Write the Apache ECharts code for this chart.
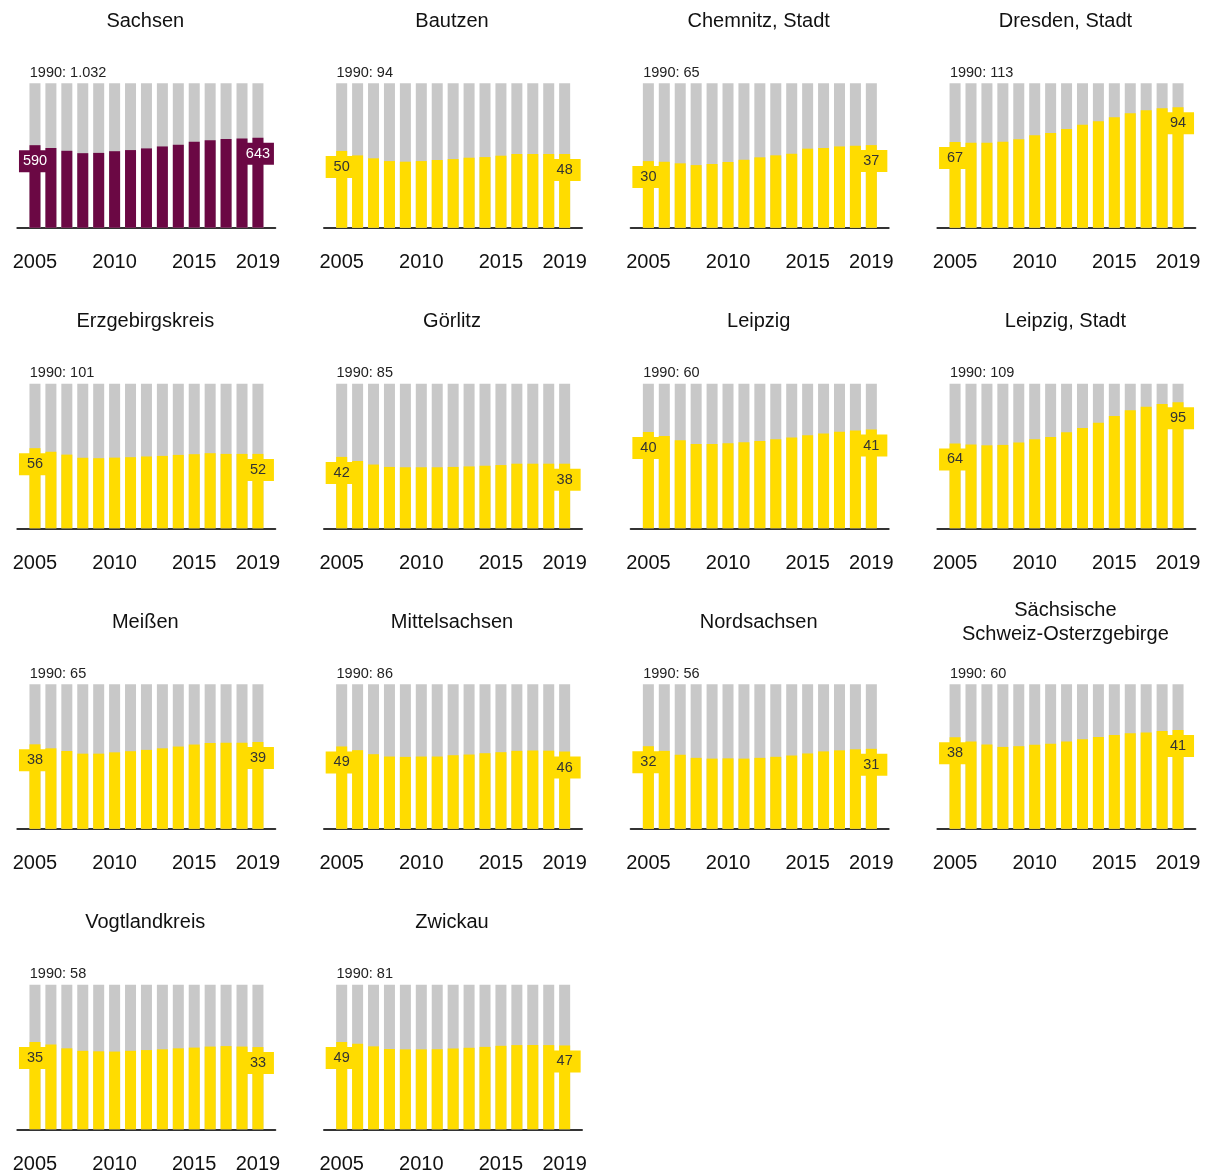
<!DOCTYPE html>
<html>
<head>
<meta charset="utf-8">
<script src="https://cdn.jsdelivr.net/npm/echarts@6/dist/echarts.min.js"></script>
<style>
html,body{margin:0;padding:0;background:#fff;}
#chart{width:1211px;height:1176px;}
</style>
</head>
<body>
<div id="chart"></div>
<script>
// ---- data ----
const years = [2005,2006,2007,2008,2009,2010,2011,2012,2013,2014,2015,2016,2017,2018,2019];
const tickYears = [2005,2010,2015,2019];
const regions = ["Sachsen","Bautzen","Chemnitz, Stadt","Dresden, Stadt","Erzgebirgskreis","Görlitz","Leipzig","Leipzig, Stadt","Meißen","Mittelsachsen","Nordsachsen","Sächsische\nSchweiz-Osterzgebirge","Vogtlandkreis","Zwickau"];
const v1990 = [1032,94,65,113,101,85,60,109,65,86,56,60,58,81];

const sachsen      = [590,570,550,533,535,547,555,567,581,593,614,626,634,638,643];
const bautzen      = [50,47.1,45.2,43.4,43,43.4,44.1,44.7,45.6,46,46.9,48,48,48,48];
const chemnitz     = [30,29.7,29,28.2,28.7,29.6,30.6,31.7,32.6,33.3,35.6,35.9,36.6,36.9,37.2];
const dresden      = [67,66.5,66.5,67.3,69.2,72.3,74.1,77.2,80.6,83.3,86.4,89.5,91.9,93.4,94.3];
const erzgebirge   = [56,53.5,51.5,49.3,49,49.4,49.7,50.2,50.6,51.3,51.8,52.5,52,52,52];
const goerlitz     = [42,39.6,37.5,36.1,35.9,35.9,35.9,36.1,36.4,36.8,37.2,38,38,38,38];
const leipzig      = [40,38.3,36.6,35,35,35.3,35.7,36.3,37,37.7,38.6,39.4,40.1,40.6,41];
const leipzigStadt = [64,63.2,62.6,62.9,64.7,67.2,68.9,72.4,75.7,79.7,84.7,89,91.7,93.7,95];
const meissen      = [38,36.2,35,33.8,33.8,34.4,34.9,35.5,36.2,37,37.9,38.6,38.7,38.7,39];
const mittelsachsen= [49,46.8,44.4,43,42.8,43,43,43.8,44.2,45,45.6,46.4,46.6,46.5,46];
const nordsachsen  = [32,30.2,28.7,27.5,27.2,27.3,27.2,27.5,27.9,28.4,29.2,30,30.4,30.8,31];
const saechsSchweiz= [38,36.3,35,34,34.3,34.9,35.3,36.3,37.2,38.1,39,39.7,40,40.6,41];
const vogtland     = [35,34,32.5,31.5,31.3,31.2,31.5,31.8,32.1,32.5,32.8,33.2,33.4,33.2,33];
const zwickau      = [49,48,46.5,45,44.8,44.8,44.9,45.3,45.7,46.2,46.8,47.2,47.3,47.2,47];
const series = [sachsen,bautzen,chemnitz,dresden,erzgebirge,goerlitz,leipzig,leipzigStadt,meissen,mittelsachsen,nordsachsen,saechsSchweiz,vogtland,zwickau];

// ---- layout ----
const colStep = 306.7, rowStep = 300.5;
const gridLeft0 = 17.3, gridWidth = 258, gridTop0 = 83.3, gridHeight = 144.5;
const fmtDE = n => String(n).replace(/\B(?=(\d{3})+(?!\d))/g, '.');

const opt = {
  backgroundColor: '#fff',
  animation: false,
  title: [], grid: [], xAxis: [], yAxis: [], series: []
};

regions.forEach((name, i) => {
  const c = i % 4, r = Math.floor(i / 4);
  const gl = gridLeft0 + colStep * c;
  const gt = gridTop0 + rowStep * r;
  const isMain = i === 0;
  const color = isMain ? '#6b0844' : '#ffdc00';
  const twoLine = name.indexOf('\n') >= 0;
  opt.title.push({
    text: name,
    left: gl + gridWidth / 2 - 1,
    top: gt - 74 - (twoLine ? 12 : 0),
    textAlign: 'center',
    padding: 0,
    textStyle: {fontFamily: 'Liberation Sans, Arial, sans-serif', fontSize: 20, fontWeight: 'normal', color: '#111', lineHeight: 24}
  });
  opt.title.push({
    text: '1990: ' + fmtDE(v1990[i]),
    left: gl + 12.5,
    top: gt - 18.6,
    padding: 0,
    textStyle: {fontFamily: 'Liberation Sans, Arial, sans-serif', fontSize: 14.5, fontWeight: 'normal', color: '#222', lineHeight: 16}
  });
  opt.grid.push({left: gl, top: gt, width: gridWidth, height: gridHeight, containLabel: false});
  opt.xAxis.push({
    type: 'value', gridIndex: i, min: 2003.89, max: 2020.09,
    axisLine: {show: true, onZero: false, lineStyle: {color: '#333', width: 2}},
    axisTick: {show: false},
    splitLine: {show: false},
    axisLabel: {customValues: tickYears, formatter: v => String(v), margin: 25, fontSize: 20, color: '#111', fontFamily: 'Liberation Sans, Arial, sans-serif'}
  });
  opt.yAxis.push({type: 'value', gridIndex: i, min: 0, max: v1990[i], show: false, splitLine: {show: false}});
  const vals = series[i];
  opt.series.push({
    type: 'bar', xAxisIndex: i, yAxisIndex: i, barWidth: 11, barGap: '-100%',
    silent: true, itemStyle: {color: '#c8c8c8'},
    data: years.map(y => [y, v1990[i]])
  });
  opt.series.push({
    type: 'bar', xAxisIndex: i, yAxisIndex: i, barWidth: 11, barGap: '-100%',
    silent: true, itemStyle: {color: color},
    data: years.map((y, k) => ({
      value: [y, vals[k]],
      label: {show: k === 0 || k === years.length - 1}
    })),
    label: {
      position: 'insideTop', distance: 5,
      formatter: p => fmtDE(Math.round(p.value[1])),
      backgroundColor: color, color: isMain ? '#fff' : '#333',
      fontSize: 14.5, fontFamily: 'Liberation Sans, Arial, sans-serif',
      padding: [3, 4], width: 24, align: 'center', lineHeight: 16
    }
  });
});

const chart = echarts.init(document.getElementById('chart'), null, {renderer: 'canvas'});
chart.setOption(opt);
</script>
</body>
</html>
